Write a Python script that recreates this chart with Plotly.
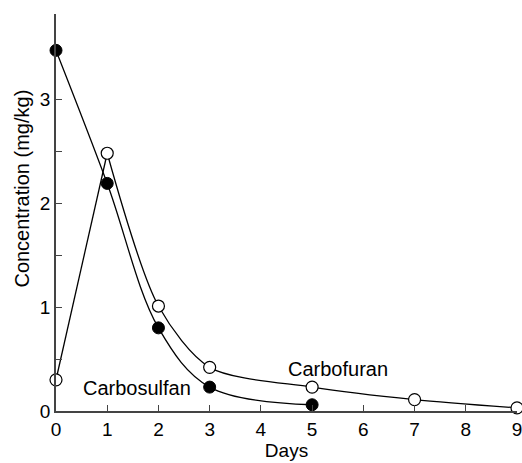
import plotly.graph_objects as go

# data
days_sulfan = [0, 1, 2, 3, 5]
carbosulfan = [3.47, 2.19, 0.80, 0.23, 0.06]

days_furan = [0, 1, 2, 3, 5, 7, 9]
carbofuran = [0.30, 2.48, 1.01, 0.42, 0.23, 0.11, 0.03]

font = "Liberation Sans, Arial, Helvetica, sans-serif"

fig = go.Figure()

# carbosulfan smooth curve
fig.add_trace(go.Scatter(x=days_sulfan, y=carbosulfan, mode="lines",
                         line=dict(color="black", width=1.3, shape="spline", smoothing=1),
                         cliponaxis=False, showlegend=False))
# carbofuran: straight rise, then smooth decay
fig.add_trace(go.Scatter(x=days_furan[:2], y=carbofuran[:2], mode="lines",
                         line=dict(color="black", width=1.3),
                         cliponaxis=False, showlegend=False))
fig.add_trace(go.Scatter(x=days_furan[1:], y=carbofuran[1:], mode="lines",
                         line=dict(color="black", width=1.3, shape="spline", smoothing=0.8),
                         cliponaxis=False, showlegend=False))

# markers
fig.add_trace(go.Scatter(x=days_furan, y=carbofuran, mode="markers",
                         marker=dict(size=12, color="white", line=dict(color="black", width=1.2)),
                         cliponaxis=False, showlegend=False))
fig.add_trace(go.Scatter(x=days_sulfan, y=carbosulfan, mode="markers",
                         marker=dict(size=12, color="black", line=dict(color="black", width=1)),
                         cliponaxis=False, showlegend=False))

fig.add_annotation(x=1.58, y=0.22, text="Carbosulfan", showarrow=False,
                   font=dict(size=20, color="black", family=font))
fig.add_annotation(x=5.5, y=0.40, text="Carbofuran", showarrow=False,
                   font=dict(size=20, color="black", family=font))
# y title sits a bit above the middle of the axis in the original
fig.add_annotation(xref="paper", yref="paper", x=-0.074, y=0.56, textangle=-90,
                   xanchor="center", yanchor="middle",
                   text="Concentration (mg/kg)", showarrow=False,
                   font=dict(size=20, color="black", family=font))

fig.update_layout(
    width=522, height=463,
    margin=dict(l=56, r=5, t=14, b=52),
    plot_bgcolor="white", paper_bgcolor="white",
    font=dict(family=font, color="black"),
    xaxis=dict(range=[0, 9], tickvals=[0, 1, 2, 3, 4, 5, 6, 7, 8, 9],
               ticks="inside", ticklen=6, tickcolor="#444", tickwidth=1,
               showline=True, linecolor="#444", linewidth=1.5,
               showgrid=False, zeroline=False, automargin=False,
               ticklabeloverflow="allow",
               tickfont=dict(size=19),
               title=dict(text="Days", font=dict(size=19), standoff=2)),
    yaxis=dict(range=[0, 3.82], tickvals=[0, 1, 2, 3],
               ticks="inside", ticklen=6, tickcolor="#444", tickwidth=1,
               minor=dict(tickvals=[0.5, 1.5, 2.5], ticks="inside", ticklen=6, tickcolor="#444"),
               showline=True, linecolor="#444", linewidth=1.5,
               showgrid=False, zeroline=False, automargin=False,
               tickfont=dict(size=19)),
)

# drop the page's default body margin so the figure sits at the window's corner
fig.write_html("out.html", config={"displayModeBar": False},
               post_script="document.body.style.margin='0';")
